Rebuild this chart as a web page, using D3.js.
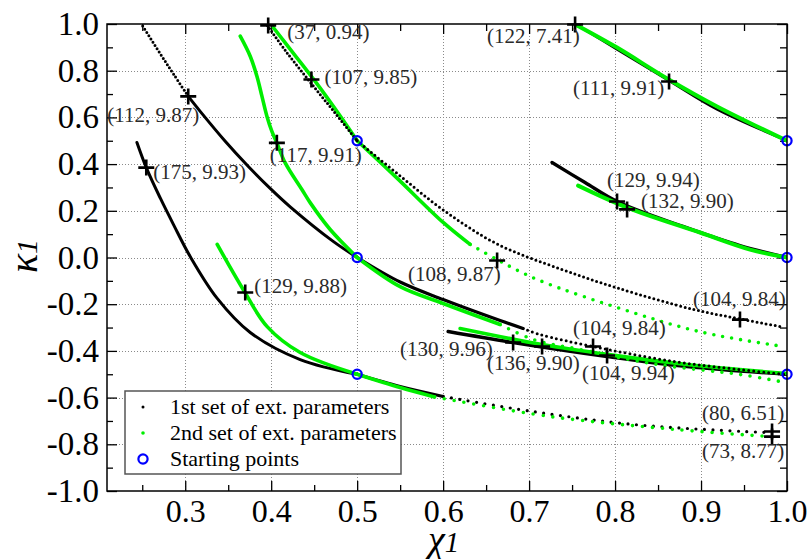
<!DOCTYPE html>
<html>
<head>
<meta charset="utf-8">
<script src="https://cdn.jsdelivr.net/npm/d3@7"></script>
<style>
  body { margin: 0; background: #fff; }
  text { font-family: "Liberation Serif", "Times New Roman", serif; }
</style>
</head>
<body>
<div id="chart"></div>
<script>
// axis ticks
const xMajor = [0.3, 0.4, 0.5, 0.6, 0.7, 0.8, 0.9, 1.0]
const xMinor = [0.25, 0.35, 0.45, 0.55, 0.65, 0.75, 0.85, 0.95]
const yMajor = [-1.0, -0.8, -0.6, -0.4, -0.2, 0.0, 0.2, 0.4, 0.6, 0.8, 1.0]
const yMinor = [-0.9, -0.7, -0.5, -0.3, -0.1, 0.1, 0.3, 0.5, 0.7, 0.9]

// 1st set of ext. parameters (chi1, kappa1)
const s1ALeftDot = [[0.3955, 0.994], [0.4175, 0.881], [0.443, 0.762], [0.471, 0.634], [0.5, 0.5]]
const s1ARightDot = [[0.5, 0.5], [0.5465, 0.36], [0.6, 0.204], [0.6628, 0.058], [0.7395, -0.053], [0.8023, -0.13], [0.8907, -0.222], [0.9453, -0.263], [0.994, -0.297]]
const s1BLeftSolid = [[0.5, 0.0], [0.4721, 0.069], [0.4221, 0.217], [0.3988, 0.296], [0.3729, 0.392], [0.3465, 0.498], [0.3174, 0.626], [0.3035, 0.69]]
const s1BLeftDot = [[0.3035, 0.69], [0.2865, 0.785], [0.2709, 0.873], [0.249, 1.0]]
const s1BRightSolid = [[0.5, 0.0], [0.55, -0.105], [0.6, -0.18], [0.6663, -0.27], [0.693, -0.304]]
const s1BRightDot = [[0.693, -0.304], [0.7128, -0.33], [0.7744, -0.381], [0.8674, -0.445], [0.9453, -0.48], [0.9977, -0.501]]
const s1CLeftSolid = [[0.5, -0.5], [0.4337, -0.437], [0.3756, -0.321], [0.3372, -0.175], [0.3058, 0.004], [0.2865, 0.14], [0.2709, 0.255], [0.2547, 0.385], [0.2438, 0.4925]]
const s1CRightSolid = [[0.5, -0.5], [0.55, -0.5525], [0.6, -0.595]]
const s1CRightDot = [[0.6, -0.595], [0.7047, -0.66], [0.8209, -0.715], [0.9488, -0.745], [0.9826, -0.75]]
const s1DLeftSolid = [[1.0, 0.5], [0.9186, 0.634], [0.864, 0.754], [0.8023, 0.891], [0.7535, 1.0]]
const s1ELeftSolid = [[1.0, 0.0], [0.9453, 0.051], [0.879, 0.133], [0.8023, 0.24], [0.7651, 0.321], [0.7267, 0.407]]
const s1FLeftSolid = [[1.0, -0.5], [0.8837, -0.467], [0.7907, -0.424], [0.6814, -0.364], [0.6058, -0.317]]

// 2nd set of ext. parameters
const s2ALeftSolid = [[0.5, 0.5], [0.4756, 0.63], [0.4512, 0.754], [0.4279, 0.865], [0.4027, 0.984]]
const s2ARightSolid = [[0.5, 0.5], [0.5461, 0.341], [0.6004, 0.149], [0.6314, 0.056]]
const s2ARightDot = [[0.6314, 0.056], [0.6628, -0.009], [0.7093, -0.094], [0.8209, -0.236], [0.9023, -0.321], [0.9953, -0.381]]
const s2BLeftSolid = [[0.5, 0.0], [0.4686, 0.12], [0.4453, 0.235], [0.4357, 0.291], [0.4163, 0.405], [0.4066, 0.491], [0.4008, 0.54], [0.395, 0.605], [0.3892, 0.691], [0.3834, 0.776], [0.3756, 0.862], [0.364, 0.948]]
const s2BRightSolid = [[0.5, 0.0], [0.55, -0.125], [0.6, -0.197], [0.6663, -0.287]]
const s2BRightDot = [[0.6663, -0.287], [0.7047, -0.351], [0.7593, -0.394], [0.8488, -0.458], [0.9453, -0.501], [0.9919, -0.531]]
const s2CLeftSolid = [[0.5, -0.5], [0.4337, -0.407], [0.3953, -0.296], [0.3674, -0.137], [0.3372, 0.056]]
const s2CRightSolid = [[0.5, -0.5], [0.55, -0.557], [0.59, -0.597]]
const s2CRightDot = [[0.59, -0.597], [0.7244, -0.681], [0.872, -0.737], [0.98, -0.767]]
const s2DLeftSolid = [[1.0, 0.5], [0.9186, 0.647], [0.8605, 0.767], [0.8023, 0.899], [0.7558, 0.994]]
const s2ELeftSolid = [[1.0, 0.0], [0.957, 0.034], [0.8988, 0.107], [0.814, 0.214], [0.757, 0.308]]
const s2FLeftSolid = [[1.0, -0.497], [0.8837, -0.458], [0.7907, -0.415], [0.7151, -0.373], [0.6198, -0.304]]

const startPts = [[0.5, 0.5], [0.5, 0.0], [0.5, -0.5], [1.0, 0.5], [1.0, 0.0], [1.0, -0.5]]

const crossPts = [[0.3965, 0.994], [0.4468, 0.762], [0.3035, 0.69], [0.4066, 0.491], [0.2547, 0.385],
  [0.7535, 0.998], [0.8628, 0.754], [0.8023, 0.24], [0.814, 0.206], [0.6628, -0.013],
  [0.3698, -0.15], [0.9453, -0.266], [0.7744, -0.381], [0.6814, -0.364], [0.7151, -0.381],
  [0.7907, -0.42], [0.9826, -0.745], [0.9826, -0.767]]
const crossText = ['(37, 0.94)', '(107, 9.85)', '(112, 9.87)', '(117, 9.91)', '(175, 9.93)',
  '(122, 7.41)', '(111, 9.91)', '(129, 9.94)', '(132, 9.90)', '(108, 9.87)',
  '(129, 9.88)', '(104, 9.84)', '(104, 9.84)', '(130, 9.96)', '(136, 9.90)',
  '(104, 9.94)', '(80, 6.51)', '(73, 8.77)']

const legendLabels = ['1st set of ext. parameters', '2nd set of ext. parameters', 'Starting points']

// layout
const W = 807, H = 559
const margin = { left: 107, right: 20, top: 24, bottom: 68 }
const BLACK = '#000', GREEN = '#00ee00', BLUE = '#0000ff'

const labelOffset = [[19, 13.5], [13, 4.5], [-81, 26], [-7, 19], [7, 11],
  [-88, 19], [-96, 14], [-10, -14], [14, -1], [-89, 20],
  [9, 0], [-47, -14], [-20, -11], [-113, 13.5], [-55, 24],
  [-25, 24], [-70, -11], [-70, 21]]

const solidLines = [
  { pts: s1BLeftSolid, color: BLACK, w: 3 },
  { pts: s1BRightSolid, color: BLACK, w: 3.2 },
  { pts: s1CLeftSolid, color: BLACK, w: 3 },
  { pts: s1CRightSolid, color: BLACK, w: 3 },
  { pts: s1DLeftSolid, color: BLACK, w: 2.4 },
  { pts: s1ELeftSolid, color: BLACK, w: 3.4 },
  { pts: s1FLeftSolid, color: BLACK, w: 3.4 },
  { pts: s2ALeftSolid, color: GREEN, w: 3.6 },
  { pts: s2ARightSolid, color: GREEN, w: 3.6 },
  { pts: s2BLeftSolid, color: GREEN, w: 3.6 },
  { pts: s2BRightSolid, color: GREEN, w: 3.6 },
  { pts: s2CLeftSolid, color: GREEN, w: 3.6 },
  { pts: s2CRightSolid, color: GREEN, w: 3.6 },
  { pts: s2DLeftSolid, color: GREEN, w: 4 },
  { pts: s2ELeftSolid, color: GREEN, w: 4 },
  { pts: s2FLeftSolid, color: GREEN, w: 3.6 }
]
const dottedLines = [
  { pts: s1ALeftDot, color: BLACK, w: 3, gap: 3.8 },
  { pts: s1ARightDot, color: BLACK, w: 3, gap: 4.6 },
  { pts: s1BLeftDot, color: BLACK, w: 3, gap: 3.8 },
  { pts: s1BRightDot, color: BLACK, w: 3, gap: 5 },
  { pts: s1CRightDot, color: BLACK, w: 3.2, gap: 8.5 },
  { pts: s2ARightDot, color: GREEN, w: 3.6, gap: 9 },
  { pts: s2BRightDot, color: GREEN, w: 3.6, gap: 9.5 },
  { pts: s2CRightDot, color: GREEN, w: 3.6, gap: 10 }
]

const svg = d3.select('#chart').append('svg')
  .attr('width', W)
  .attr('height', H)

const x = d3.scaleLinear().domain([0.209, 1.0]).range([margin.left, W - margin.right])
const y = d3.scaleLinear().domain([-1, 1]).range([H - margin.bottom, margin.top])
const x0 = margin.left, x1 = W - margin.right, y0 = margin.top, y1 = H - margin.bottom
const fmt = d => d.toFixed(1)

svg.append('defs').append('clipPath').attr('id', 'clip')
  .append('rect')
  .attr('x', x0).attr('y', y0)
  .attr('width', x1 - x0).attr('height', y1 - y0)

// grid
const grid = svg.append('g').attr('stroke', '#8a8a8a').attr('stroke-width', 1).attr('stroke-dasharray', '1,2')
grid.selectAll('.gx').data(xMajor.filter(d => d < 1)).join('line')
  .attr('x1', d => Math.round(x(d)) + 0.5).attr('x2', d => Math.round(x(d)) + 0.5)
  .attr('y1', y0).attr('y2', y1)
grid.selectAll('.gy').data(yMajor.filter(d => Math.abs(d) < 1)).join('line')
  .attr('y1', d => Math.round(y(d)) + 0.5).attr('y2', d => Math.round(y(d)) + 0.5)
  .attr('x1', x0).attr('x2', x1)

// axes
const tickStyle = size => g => {
  g.select('.domain').remove()
  g.selectAll('.tick line').attr('stroke', '#000').attr('stroke-width', 1.3)
  g.selectAll('.tick text').attr('fill', '#000').style('font-size', size)
    .style('font-family', '"Liberation Serif", serif')
}

svg.append('g').attr('transform', `translate(0,${y1})`)
  .call(d3.axisBottom(x).tickValues(xMajor).tickFormat(fmt).tickSize(-10).tickPadding(8))
  .call(tickStyle('32px'))
svg.append('g').attr('transform', `translate(0,${y1})`)
  .call(d3.axisBottom(x).tickValues(xMinor).tickFormat('').tickSize(-6))
  .call(tickStyle())
svg.append('g').attr('transform', `translate(0,${y0})`)
  .call(d3.axisTop(x).tickValues(xMajor).tickFormat('').tickSize(-10))
  .call(tickStyle())
svg.append('g').attr('transform', `translate(0,${y0})`)
  .call(d3.axisTop(x).tickValues(xMinor).tickFormat('').tickSize(-7))
  .call(tickStyle())
svg.append('g').attr('transform', `translate(${x0},0)`)
  .call(d3.axisLeft(y).tickValues(yMajor).tickFormat(fmt).tickSize(-10).tickPadding(8))
  .call(tickStyle('33px'))
svg.append('g').attr('transform', `translate(${x0},0)`)
  .call(d3.axisLeft(y).tickValues(yMinor).tickFormat('').tickSize(-6))
  .call(tickStyle())
svg.append('g').attr('transform', `translate(${x1},0)`)
  .call(d3.axisRight(y).tickValues(yMajor).tickFormat('').tickSize(-10))
  .call(tickStyle())
svg.append('g').attr('transform', `translate(${x1},0)`)
  .call(d3.axisRight(y).tickValues(yMinor).tickFormat('').tickSize(-7))
  .call(tickStyle())

// curves
const line = d3.line()
  .x(d => x(d[0]))
  .y(d => y(d[1]))
  .curve(d3.curveCatmullRom.alpha(0.5))

const plot = svg.append('g').attr('clip-path', 'url(#clip)')

plot.append('g').selectAll('path')
  .data(solidLines)
  .join('path')
  .attr('d', d => line(d.pts))
  .attr('fill', 'none')
  .attr('stroke', d => d.color)
  .attr('stroke-width', d => d.w)
  .attr('stroke-linecap', 'round')

plot.append('g').selectAll('path')
  .data(dottedLines)
  .join('path')
  .attr('d', d => line(d.pts))
  .attr('fill', 'none')
  .attr('stroke', d => d.color)
  .attr('stroke-width', d => d.w)
  .attr('stroke-linecap', 'round')
  .attr('stroke-dasharray', d => `0,${d.gap}`)

// crosses
const cross = svg.append('g').selectAll('g')
  .data(crossPts.map((p, i) => ({ p, text: crossText[i], off: labelOffset[i] })))
  .join('g')
  .attr('transform', d => `translate(${x(d.p[0])},${y(d.p[1])})`)

cross.append('path')
  .attr('d', 'M-8,0H8M0,-8V8')
  .attr('stroke', '#000')
  .attr('stroke-width', 2.6)

cross.append('text')
  .attr('x', d => d.off[0])
  .attr('y', d => d.off[1])
  .attr('fill', '#2a2a2a')
  .style('font-size', '21px')
  .text(d => d.text)

// starting points
svg.append('g').selectAll('circle')
  .data(startPts)
  .join('circle')
  .attr('cx', d => x(d[0]))
  .attr('cy', d => y(d[1]))
  .attr('r', 4.6)
  .attr('fill', 'none')
  .attr('stroke', BLUE)
  .attr('stroke-width', 2.2)

// frame
svg.append('rect')
  .attr('x', x0).attr('y', y0)
  .attr('width', x1 - x0).attr('height', y1 - y0)
  .attr('fill', 'none')
  .attr('stroke', '#000')
  .attr('stroke-width', 1.5)

// legend
const legend = svg.append('g').attr('transform', 'translate(125,391)')
legend.append('rect')
  .attr('width', 276).attr('height', 83)
  .attr('fill', '#fff')
  .attr('stroke', '#555')
  .attr('stroke-width', 1.5)

const item = legend.selectAll('.item')
  .data(legendLabels)
  .join('g')
  .attr('transform', (d, i) => `translate(0,${16 + i * 26})`)

item.append('text')
  .attr('x', 45)
  .attr('y', 6.5)
  .style('font-size', '22px')
  .attr('fill', '#000')
  .text(d => d)

item.filter((d, i) => i < 2).append('circle')
  .attr('cx', 18).attr('cy', 0)
  .attr('r', (d, i) => i === 0 ? 1.5 : 1.8)
  .attr('fill', (d, i) => i === 0 ? BLACK : GREEN)

item.filter((d, i) => i === 2).append('circle')
  .attr('cx', 18).attr('cy', 0)
  .attr('r', 4.6)
  .attr('fill', 'none')
  .attr('stroke', BLUE)
  .attr('stroke-width', 2.2)

// axis titles
const xt = svg.append('text')
  .attr('x', 428).attr('y', 552)
  .style('font-style', 'italic')
xt.append('tspan').style('font-size', '38px').text('χ')
xt.append('tspan').style('font-size', '29px').text('1')

const yt = svg.append('text')
  .attr('transform', 'translate(37,256) rotate(-90)')
  .attr('text-anchor', 'middle')
  .style('font-style', 'italic')
yt.append('tspan').style('font-size', '40px').text('κ')
yt.append('tspan').style('font-size', '30px').text('1')
</script>
</body>
</html>
